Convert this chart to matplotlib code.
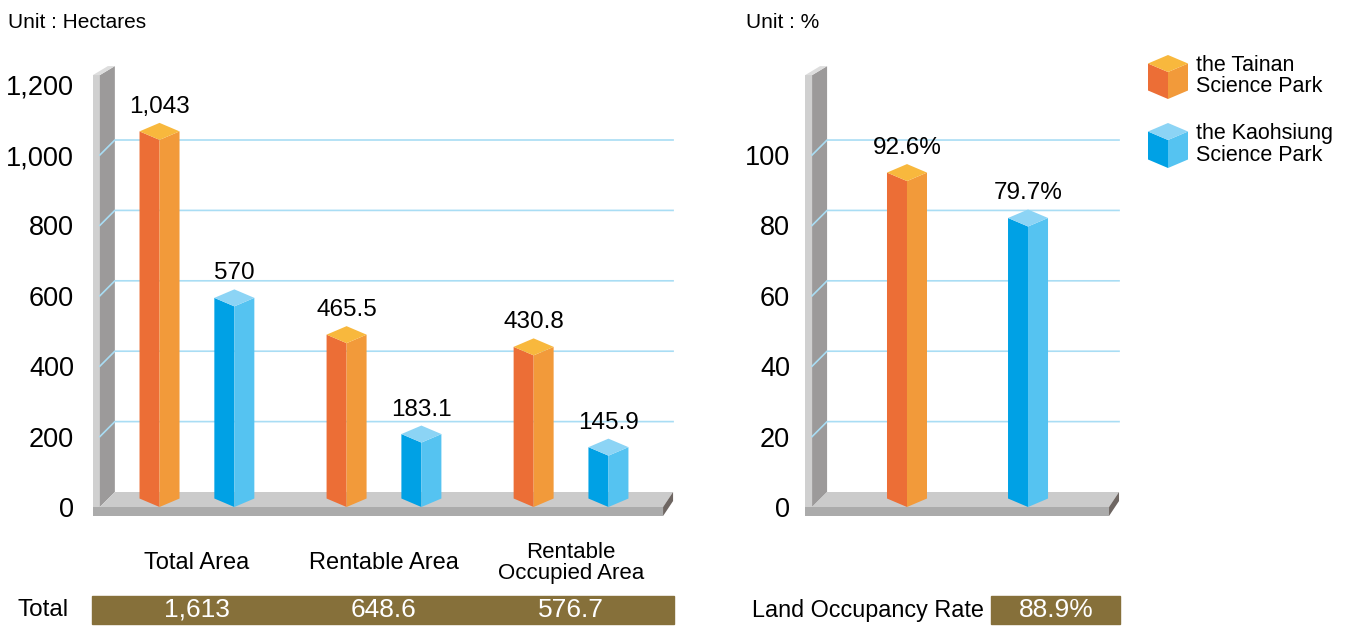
import matplotlib
matplotlib.use("Agg")
import matplotlib.pyplot as plt
from matplotlib.patches import Polygon, Rectangle
from matplotlib.transforms import blended_transform_factory

# ── Data ────────────────────────────────────────────────────
categories = ["Total Area", "Rentable Area", "Rentable\nOccupied Area"]
tainan_area = [1043, 465.5, 430.8]
kaohsiung_area = [570, 183.1, 145.9]
total_area = [1613, 648.6, 576.7]
area_ticks = [0, 200, 400, 600, 800, 1000, 1200]

rate_parks = ["the Tainan\nScience Park", "the Kaohsiung\nScience Park"]
occupancy_rate = [92.6, 79.7]
rate_ticks = [0, 20, 40, 60, 80, 100]
overall_rate = 88.9

# ── Style ───────────────────────────────────────────────────
W, H = 1349, 626
plt.rcParams["font.family"] = ["Liberation Sans", "DejaVu Sans"]

ORANGE = ("#EC6E36", "#F29A3A", "#F8B83D")   # left, right, top faces
BLUE = ("#00A1E5", "#55C3F1", "#8CD4F5")
GRID = "#A9DDF4"
WALL_FRONT, WALL_SIDE, WALL_CAP = "#D0D0D0", "#9C9A9A", "#DDDDDD"
FLOOR_TOP, FLOOR_FRONT, FLOOR_END = "#CBCBCB", "#ABABAB", "#6E6662"
BROWN = "#86703A"

DX, DY = 15, 15      # depth of the back plane, px
BW, DYS = 20, 8.5    # bar half width and side rise, px
THICK = 9            # floor thickness, px


def px_axes(fig, x0, x1, y0, y1):
    return fig.add_axes([x0 / W, 1 - y1 / H, (x1 - x0) / W, (y1 - y0) / H])


def scales(ax):
    pos = ax.get_position()
    xa, xb = ax.get_xlim()
    ya, yb = ax.get_ylim()
    return pos.width * W / (xb - xa), pos.height * H / (yb - ya)


def poly(ax, pts, color, z):
    ax.add_patch(Polygon(pts, closed=True, facecolor=color, edgecolor="none",
                         zorder=z, clip_on=False))


def prism(ax, x, v, cols, sx, sy, v0=0, z=5):
    w, r = BW / sx, DYS / sy
    poly(ax, [(x - w, v0 + r), (x, v0), (x, v), (x - w, v + r)], cols[0], z)
    poly(ax, [(x, v0), (x + w, v0 + r), (x + w, v + r), (x, v)], cols[1], z)
    poly(ax, [(x, v), (x - w, v + r), (x, v + 2 * r), (x + w, v + r)], cols[2], z)


def stage(ax, wall_x, floor_x1, wall_top, grid_vals):
    sx, sy = scales(ax)
    dx, dy, t = DX / sx, DY / sy, THICK / sy
    fw, ex = 7 / sx, 10 / sx
    # back wall
    poly(ax, [(wall_x - fw, -t), (wall_x, -t), (wall_x, wall_top),
              (wall_x - fw, wall_top)], WALL_FRONT, 1)
    poly(ax, [(wall_x, 0), (wall_x + dx, dy), (wall_x + dx, wall_top + t),
              (wall_x, wall_top)], WALL_SIDE, 1)
    poly(ax, [(wall_x - fw, wall_top), (wall_x, wall_top),
              (wall_x + dx, wall_top + t), (wall_x + dx - fw, wall_top + t)],
         WALL_CAP, 1)
    # grid on the back plane
    for g in grid_vals:
        ax.plot([wall_x, wall_x + dx, floor_x1 + ex], [g, g + dy, g + dy],
                color=GRID, lw=1.2, zorder=2, clip_on=False)
    # floor
    poly(ax, [(wall_x, 0), (floor_x1, 0), (floor_x1 + ex, dy),
              (wall_x + dx, dy)], FLOOR_TOP, 3)
    poly(ax, [(wall_x - fw, -t), (floor_x1, -t), (floor_x1, 0),
              (wall_x - fw, 0)], FLOOR_FRONT, 3)
    poly(ax, [(floor_x1, -t), (floor_x1, 0), (floor_x1 + ex, dy),
              (floor_x1 + ex, dy - t)], FLOOR_END, 3)


def fmt(v):
    return f"{int(v):,}" if float(v).is_integer() else f"{v:,.1f}"


def bar_label(ax, x, v, text):
    sx, sy = scales(ax)
    ax.text(x, v + (2 * DYS + 10) / sy, text, ha="center", va="baseline",
            fontsize=17.5, zorder=6)


def clean(ax):
    for s in ax.spines.values():
        s.set_visible(False)
    ax.patch.set_visible(False)


fig = plt.figure(figsize=(W / 100, H / 100), dpi=100)

# ── Left panel: areas ───────────────────────────────────────
ax1 = px_axes(fig, 92, 690, 60, 520)
ax1.set_xlim(-0.561, 2.636)
ax1.set_ylim(-36.9, 1269.9)
clean(ax1)
stage(ax1, -0.519, 2.492, 1227, area_ticks[1:-1])
sx1, sy1 = scales(ax1)
off = 0.2
for i, (tn, ks) in enumerate(zip(tainan_area, kaohsiung_area)):
    prism(ax1, i - off, tn, ORANGE, sx1, sy1)
    prism(ax1, i + off, ks, BLUE, sx1, sy1)
    bar_label(ax1, i - off, tn, fmt(tn))
    bar_label(ax1, i + off, ks, fmt(ks))

ax1.set_yticks(area_ticks)
ax1.set_yticklabels([fmt(t) for t in area_ticks], fontsize=19.5)
ax1.set_xticks(range(len(categories)))
ax1.set_xticklabels(categories, fontsize=17, linespacing=0.95)
for lab in ax1.get_xticklabels():
    lab.set_va("center")
    if "\n" in lab.get_text():
        lab.set_fontsize(16)
ax1.tick_params(axis="y", length=0, pad=13)
ax1.tick_params(axis="x", length=0, pad=31)

# ── Right panel: occupancy rate ─────────────────────────────
ax2 = px_axes(fig, 804, 1125, 60, 520)
ax2.set_xlim(-0.870, 0.838)
ax2.set_ylim(-3.69, 127.0)
clean(ax2)
stage(ax2, -0.827, 0.753, 122.7, rate_ticks[1:])
sx2, sy2 = scales(ax2)
rate_pos = [-0.322, 0.322]
for x, v, cols in zip(rate_pos, occupancy_rate, [ORANGE, BLUE]):
    prism(ax2, x, v, cols, sx2, sy2)
    bar_label(ax2, x, v, f"{v:.1f}%")
ax2.set_yticks(rate_ticks)
ax2.set_yticklabels([str(t) for t in rate_ticks], fontsize=19.5)
ax2.set_xticks([])
ax2.tick_params(axis="y", length=0, pad=10)

# ── Units ───────────────────────────────────────────────────
fig.text(8 / W, 1 - 22 / H, "Unit : Hectares", fontsize=15, va="center")
fig.text(746 / W, 1 - 22 / H, "Unit : %", fontsize=15, va="center")

# ── Legend ──────────────────────────────────────────────────
axl = px_axes(fig, 1140, 1349, 40, 180)
axl.set_xlim(1140, 1349)
axl.set_ylim(H - 180, H - 40)
axl.axis("off")
for (py_top, py_bot), cols, name in zip([(55, 99), (123, 168)], [ORANGE, BLUE],
                                        rate_parks):
    prism(axl, 1168, H - py_top - 2 * DYS, cols, 1, 1, v0=H - py_bot)
    axl.text(1196, H - (py_top + py_bot) / 2 + 1, name, fontsize=15.5,
             va="center", ha="left", linespacing=1.05)

# ── Totals row ──────────────────────────────────────────────
band_y0, band_y1 = 1 - 624 / H, 1 - 596 / H
mid = (band_y0 + band_y1) / 2
fig.patches.append(Rectangle((92 / W, band_y0), (674 - 92) / W, band_y1 - band_y0,
                             transform=fig.transFigure, color=BROWN))
fig.text(43 / W, mid, "Total", fontsize=17.5, ha="center", va="center")
trans = blended_transform_factory(ax1.transData, fig.transFigure)
for i, tot in enumerate(total_area):
    fig.text(i, mid, fmt(tot), transform=trans, fontsize=19,
             color="white", ha="center", va="center")

fig.patches.append(Rectangle((991 / W, band_y0), (1120 - 991) / W, band_y1 - band_y0,
                             transform=fig.transFigure, color=BROWN))
fig.text(868 / W, mid, "Land Occupancy Rate", fontsize=16.8,
         ha="center", va="center")
fig.text(1056 / W, mid, f"{overall_rate:.1f}%", fontsize=19,
         color="white", ha="center", va="center")

fig.savefig("out.png", dpi=100)
